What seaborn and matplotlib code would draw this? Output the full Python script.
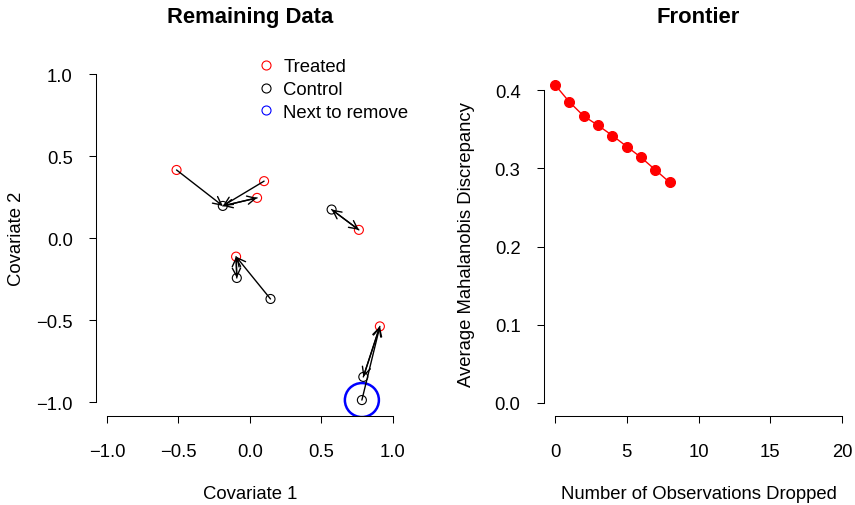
import numpy as np
import matplotlib
matplotlib.use("Agg")
import matplotlib.pyplot as plt
from matplotlib.lines import Line2D
import seaborn as sns

# ---- data ----
treated_x = [-0.513, 0.100, 0.051, 0.764, -0.096, 0.911]
treated_y = [0.416, 0.348, 0.246, 0.051, -0.112, -0.537]
control_x = [-0.189, 0.573, -0.091, 0.145, 0.795, 0.785]
control_y = [0.197, 0.175, -0.242, -0.370, -0.845, -0.986]
next_remove_idx = 5  # index into control points

dropped = [0, 1, 2, 3, 4, 5, 6, 7, 8]
discrepancy = [0.407, 0.385, 0.367, 0.355, 0.342, 0.328, 0.314, 0.298, 0.282]

left_xticks = [-1.0, -0.5, 0.0, 0.5, 1.0]
left_yticks = [-1.0, -0.5, 0.0, 0.5, 1.0]
right_xticks = [0, 5, 10, 15, 20]
right_yticks = [0.0, 0.1, 0.2, 0.3, 0.4]

sns.set_style("ticks")
plt.rcParams['font.family'] = ['Liberation Sans', 'DejaVu Sans']
plt.rcParams['text.color'] = 'black'
plt.rcParams['axes.labelcolor'] = 'black'
plt.rcParams['axes.titlecolor'] = 'black'
plt.rcParams['xtick.color'] = 'black'
plt.rcParams['ytick.color'] = 'black'
plt.rcParams['legend.labelcolor'] = 'black'

W, H = 855, 506
fig = plt.figure(figsize=(W / 100, H / 100), dpi=100)

def px_axes(l, r, t, b):
    return fig.add_axes([l / W, 1 - b / H, (r - l) / W, (b - t) / H])

ax1 = px_axes(95.6, 404, 62, 416.5)
ax2 = px_axes(543.5, 853.5, 73, 416.7)

FS = 13.3
LW = 0.75

def style_axes(ax, xb, yb, xticks, yticks, fmt_x, fmt_y):
    sns.despine(ax=ax)
    for s in ("left", "bottom"):
        ax.spines[s].set_linewidth(LW)
        ax.spines[s].set_color("black")
    ax.spines["bottom"].set_bounds(*xb)
    ax.spines["left"].set_bounds(*yb)
    ax.set_xticks(xticks)
    ax.set_yticks(yticks)
    ax.set_xticklabels([fmt_x(v) for v in xticks])
    ax.set_yticklabels([fmt_y(v) for v in yticks])
    ax.tick_params(axis="x", direction="out", length=5, width=LW, labelsize=FS, pad=15, colors="black")
    ax.tick_params(axis="y", direction="out", length=5, width=LW, labelsize=FS, pad=11.5, colors="black")

def fmt1(v):
    return f"{v:.1f}".replace("-", "\u2212")

# ---- left panel ----
ax = ax1
tx = np.array(treated_x); ty = np.array(treated_y)
cx = np.array(control_x); cy = np.array(control_y)

sns.scatterplot(x=tx, y=ty, ax=ax, s=42, marker="o", color="red", zorder=3)
pc = ax.collections[-1]; pc.set_facecolor("none"); pc.set_edgecolor("red"); pc.set_linewidth(0.8)
sns.scatterplot(x=cx, y=cy, ax=ax, s=42, marker="o", color="black", zorder=3)
pc = ax.collections[-1]; pc.set_facecolor("none"); pc.set_edgecolor("black"); pc.set_linewidth(0.8)
sns.scatterplot(x=[cx[next_remove_idx]], y=[cy[next_remove_idx]], ax=ax, s=600, marker="o", color="blue", zorder=3)
pc = ax.collections[-1]; pc.set_facecolor("none"); pc.set_edgecolor("blue"); pc.set_linewidth(1.8)

arrow_kw = dict(arrowstyle="->,head_length=0.6,head_width=0.3", color="black", lw=1.0, shrinkA=0, shrinkB=0)
# treated -> nearest control
for i in range(len(tx)):
    j = int(np.argmin((cx - tx[i]) ** 2 + (cy - ty[i]) ** 2))
    ax.annotate("", xy=(cx[j], cy[j]), xytext=(tx[i], ty[i]), arrowprops=arrow_kw, zorder=4)
# control -> nearest treated
for j in range(len(cx)):
    i = int(np.argmin((tx - cx[j]) ** 2 + (ty - cy[j]) ** 2))
    ax.annotate("", xy=(tx[i], ty[i]), xytext=(cx[j], cy[j]), arrowprops=arrow_kw, zorder=4)

ax.set_xlim(-1.08, 1.08)
ax.set_ylim(-1.08, 1.08)
style_axes(ax, (-1, 1), (-1, 1), left_xticks, left_yticks, fmt1, fmt1)
ax.set_xlabel("Covariate 1", fontsize=FS)
ax.set_ylabel("Covariate 2", fontsize=FS)
ax.xaxis.set_label_coords(0.5, (416.5 - 495) / 354.5)
ax.xaxis.label.set_va("center")
ax.yaxis.set_label_coords((17 - 95.6) / 308.4, 0.5)
ax.yaxis.label.set_va("center")
ax.set_title("Remaining Data", fontsize=15.8, fontweight="bold", y=1 + (62 - 17) / 354.5, va="center", pad=0)

handles = [
    Line2D([], [], ls="none", marker="o", markersize=6.5, markerfacecolor="none", markeredgecolor="red", markeredgewidth=0.8),
    Line2D([], [], ls="none", marker="o", markersize=6.5, markerfacecolor="none", markeredgecolor="black", markeredgewidth=0.8),
    Line2D([], [], ls="none", marker="o", markersize=6.5, markerfacecolor="none", markeredgecolor="blue", markeredgewidth=0.8),
]
leg = fig.legend(handles, ["Treated", "Control", "Next to remove"], loc="upper left",
                 bbox_to_anchor=(257.3 / W, 1 - 59.5 / H), frameon=False, fontsize=FS,
                 handlelength=0.95, handletextpad=0.45, labelspacing=0.31, borderpad=0, borderaxespad=0)
for t in leg.get_texts():
    t.set_color("black")

# ---- right panel ----
ax = ax2
sns.lineplot(x=dropped, y=discrepancy, ax=ax, color="red", lw=1.0, marker="o",
             markersize=7.2, markeredgecolor="red", markerfacecolor="red")
ax.set_xlim(-0.8, 20.8)
ax.set_ylim(-0.0163, 0.4233)
style_axes(ax, (0, 20), (0, 0.4), right_xticks, right_yticks, lambda v: f"{v:d}", fmt1)
ax.set_xlabel("Number of Observations Dropped", fontsize=FS)
ax.set_ylabel("Average Mahalanobis Discrepancy", fontsize=FS)
ax.xaxis.set_label_coords(0.5, (416.7 - 495) / 343.7)
ax.xaxis.label.set_va("center")
ax.yaxis.set_label_coords((466 - 543.5) / 310, 0.5)
ax.yaxis.label.set_va("center")
ax.set_title("Frontier", fontsize=15.8, fontweight="bold", y=1 + (73 - 17) / 343.7, va="center", pad=0)

fig.savefig("out.png", dpi=100)
